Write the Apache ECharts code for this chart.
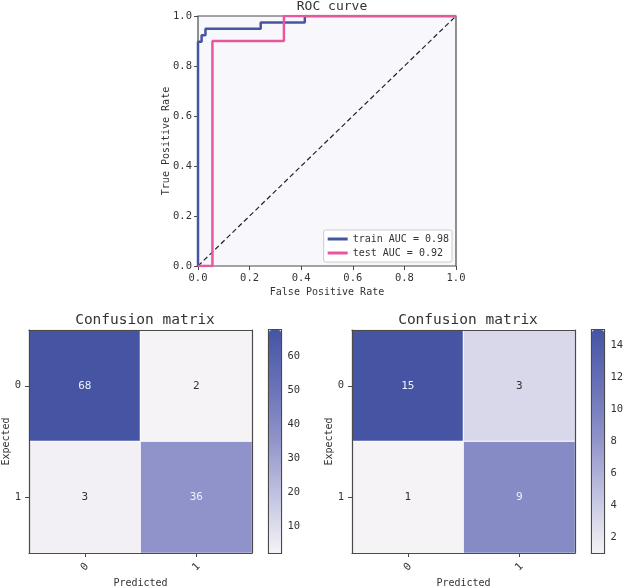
<!DOCTYPE html>
<html>
<head>
<meta charset="utf-8">
<script src="https://cdn.jsdelivr.net/npm/echarts@6/dist/echarts.min.js"></script>
<style>
  html, body { margin: 0; padding: 0; background: #fff; }
  #chart { width: 625px; height: 586px; }
</style>
</head>
<body>
<div id="chart"></div>
<script>
// ROC points (false positive rate, true positive rate)
const trainFpr = [0, 0, 0.014, 0.014, 0.029, 0.029, 0.243, 0.243, 0.414, 0.414, 1];
const trainTpr = [0, 0.897, 0.897, 0.923, 0.923, 0.949, 0.949, 0.974, 0.974, 1, 1];
const testFpr = [0, 0.056, 0.056, 0.333, 0.333, 1];
const testTpr = [0, 0, 0.9, 0.9, 1, 1];
const trainLabel = 'train AUC = 0.98';
const testLabel = 'test AUC = 0.92';

// confusion matrices, rows = expected, cols = predicted
const classes = ['0', '1'];
const trainMatrix = [[68, 2], [3, 36]];
const testMatrix = [[15, 3], [1, 9]];
const trainTicks = [10, 20, 30, 40, 50, 60];
const testTicks = [2, 4, 6, 8, 10, 12, 14];

const font = 'DejaVu Sans Mono';
const textColor = '#333';
const spine = '#4a4a4a';
const palette = ['#f5f3f5', '#c3c4e2', '#9295ca', '#6972b7', '#4555a4'];

function pairs(xs, ys) {
  return xs.map((x, i) => [x, ys[i]]);
}

function cells(matrix) {
  const flat = [].concat(...matrix);
  const lo = Math.min(...flat), hi = Math.max(...flat);
  const thresh = (lo + hi) / 2;
  const out = [];
  matrix.forEach((row, r) => {
    row.forEach((v, c) => {
      out.push({
        value: [c, r, v],
        label: { color: v > thresh ? '#eef0fa' : '#333' }
      });
    });
  });
  return { data: out, min: lo, max: hi };
}

const trainCells = cells(trainMatrix);
const testCells = cells(testMatrix);

const tickStyle = { show: true, length: 4, lineStyle: { color: spine } };
const labelStyle = { color: textColor, fontFamily: font, fontSize: 10.5 };
const nameStyle = { color: textColor, fontFamily: font, fontSize: 10 };

function heatAxes() {
  return {
    x: [
      {
        type: 'category', data: classes, position: 'bottom', z: 5,
        axisLine: { show: true, lineStyle: { color: spine, width: 1.2 } },
        axisTick: Object.assign({ alignWithLabel: true }, tickStyle),
        axisLabel: Object.assign({ rotate: 45, align: 'center', verticalAlign: 'middle', margin: 14 }, labelStyle),
        name: 'Predicted', nameLocation: 'middle', nameGap: 25, nameMoveOverlap: false,
        nameTextStyle: nameStyle
      },
      {
        type: 'category', data: classes, position: 'top', z: 5,
        axisLine: { show: true, lineStyle: { color: spine, width: 1.2 } },
        axisTick: { show: false }, axisLabel: { show: false }
      }
    ],
    y: [
      {
        type: 'category', data: classes, inverse: true, position: 'left', z: 5,
        axisLine: { show: true, lineStyle: { color: spine, width: 1.2 } },
        axisTick: Object.assign({ alignWithLabel: true }, tickStyle),
        axisLabel: Object.assign({ margin: 8 }, labelStyle),
        name: 'Expected', nameLocation: 'middle', nameGap: 18, nameRotate: 90,
        nameMoveOverlap: false, nameTextStyle: nameStyle
      },
      {
        type: 'category', data: classes, inverse: true, position: 'right', z: 5,
        axisLine: { show: true, lineStyle: { color: spine, width: 1.2 } },
        axisTick: { show: false }, axisLabel: { show: false }
      }
    ]
  };
}

function barAxes(lo, hi, ticks) {
  return {
    x: { type: 'value', min: 0, max: 1, show: false },
    y: {
      type: 'value', min: lo, max: hi, position: 'right',
      splitLine: { show: false },
      axisLine: { show: false },
      axisTick: Object.assign({ customValues: ticks }, tickStyle),
      axisLabel: Object.assign({ customValues: ticks, margin: 6 }, labelStyle)
    }
  };
}

const h1 = heatAxes();
const h2 = heatAxes();
const b1 = barAxes(trainCells.min, trainCells.max, trainTicks);
const b2 = barAxes(testCells.min, testCells.max, testTicks);
const axisGrids = [0, 1, 1, 2, 2, 3, 4];

const option = {
  backgroundColor: '#fff',
  animation: false,
  textStyle: { fontFamily: font },
  title: [
    { text: 'ROC curve', left: 327, top: -5, textAlign: 'center',
      textStyle: { fontFamily: font, fontSize: 13, fontWeight: 'normal', color: textColor } },
    { text: 'Confusion matrix', left: 140, top: 308, textAlign: 'center',
      textStyle: { fontFamily: font, fontSize: 14.5, fontWeight: 'normal', color: textColor } },
    { text: 'Confusion matrix', left: 463, top: 308, textAlign: 'center',
      textStyle: { fontFamily: font, fontSize: 14.5, fontWeight: 'normal', color: textColor } }
  ],
  legend: {
    data: [trainLabel, testLabel],
    orient: 'vertical',
    right: 173, bottom: 324,
    icon: 'rect', itemWidth: 20, itemHeight: 3, itemGap: 4,
    padding: [4, 3, 4, 4],
    backgroundColor: '#fff', borderColor: '#ccc', borderWidth: 1, borderRadius: 2,
    textStyle: { fontFamily: font, fontSize: 10, color: textColor }
  },
  grid: [
    { left: 198, top: 16, width: 258, height: 250, show: true, outerBoundsMode: 'none',
      backgroundColor: '#f8f8fc', borderColor: spine, borderWidth: 1.2 },
    { left: 29, top: 330, width: 223, height: 223, outerBoundsMode: 'none' },
    { left: 352, top: 330, width: 223, height: 223, outerBoundsMode: 'none' },
    { left: 268.5, top: 329.5, width: 13, height: 224, show: true, outerBoundsMode: 'none',
      borderColor: spine, borderWidth: 1.2 },
    { left: 591.5, top: 329.5, width: 13, height: 224, show: true, outerBoundsMode: 'none',
      borderColor: spine, borderWidth: 1.2 }
  ],
  xAxis: [
    {
      type: 'value', min: 0, max: 1, interval: 0.2,
      splitLine: { show: false }, axisLine: { show: false },
      axisTick: tickStyle,
      axisLabel: Object.assign({ formatter: v => v.toFixed(1), margin: 7 }, labelStyle),
      name: 'False Positive Rate', nameLocation: 'middle', nameGap: 21, nameMoveOverlap: false,
      nameTextStyle: nameStyle
    },
    h1.x[0], h1.x[1], h2.x[0], h2.x[1], b1.x, b2.x
  ].map((a, i) => Object.assign({}, a, { gridIndex: axisGrids[i] })),
  yAxis: [
    {
      type: 'value', min: 0, max: 1, interval: 0.2,
      splitLine: { show: false }, axisLine: { show: false },
      axisTick: tickStyle,
      axisLabel: Object.assign({ formatter: v => v.toFixed(1), margin: 6 }, labelStyle),
      name: 'True Positive Rate', nameLocation: 'middle', nameGap: 27, nameRotate: 90,
      nameMoveOverlap: false, nameTextStyle: nameStyle
    },
    h1.y[0], h1.y[1], h2.y[0], h2.y[1], b1.y, b2.y
  ].map((a, i) => Object.assign({}, a, { gridIndex: axisGrids[i] })),
  visualMap: [
    {
      type: 'continuous', seriesIndex: 3, min: trainCells.min, max: trainCells.max,
      left: 269, top: 330, itemWidth: 12, itemHeight: 223, padding: 0,
      calculable: false, hoverLink: false, text: null, showLabel: false,
      inRange: { color: palette }
    },
    {
      type: 'continuous', seriesIndex: 4, min: testCells.min, max: testCells.max,
      left: 592, top: 330, itemWidth: 12, itemHeight: 223, padding: 0,
      calculable: false, hoverLink: false, text: null, showLabel: false,
      inRange: { color: palette }
    }
  ],
  series: [
    {
      name: 'chance', type: 'line', xAxisIndex: 0, yAxisIndex: 0,
      data: [[0, 0], [1, 1]], symbol: 'none', silent: true,
      lineStyle: { color: '#222', width: 1.2, type: [5, 3] }, z: 1
    },
    {
      name: trainLabel, type: 'line', xAxisIndex: 0, yAxisIndex: 0,
      data: pairs(trainFpr, trainTpr), symbol: 'none',
      itemStyle: { color: '#4655a0' },
      lineStyle: { color: '#4655a0', width: 2.5 }, z: 3
    },
    {
      name: testLabel, type: 'line', xAxisIndex: 0, yAxisIndex: 0,
      data: pairs(testFpr, testTpr), symbol: 'none',
      itemStyle: { color: '#e8579e' },
      lineStyle: { color: '#e8579e', width: 2.5 }, z: 4
    },
    {
      type: 'heatmap', xAxisIndex: 1, yAxisIndex: 1, data: trainCells.data,
      label: { show: true, fontFamily: font, fontSize: 11 },
      itemStyle: { borderColor: '#fff', borderWidth: 1 }
    },
    {
      type: 'heatmap', xAxisIndex: 3, yAxisIndex: 3, data: testCells.data,
      label: { show: true, fontFamily: font, fontSize: 11 },
      itemStyle: { borderColor: '#fff', borderWidth: 1 }
    }
  ]
};

const chart = echarts.init(document.getElementById('chart'), null, { renderer: 'canvas' });
chart.setOption(option);
</script>
</body>
</html>
